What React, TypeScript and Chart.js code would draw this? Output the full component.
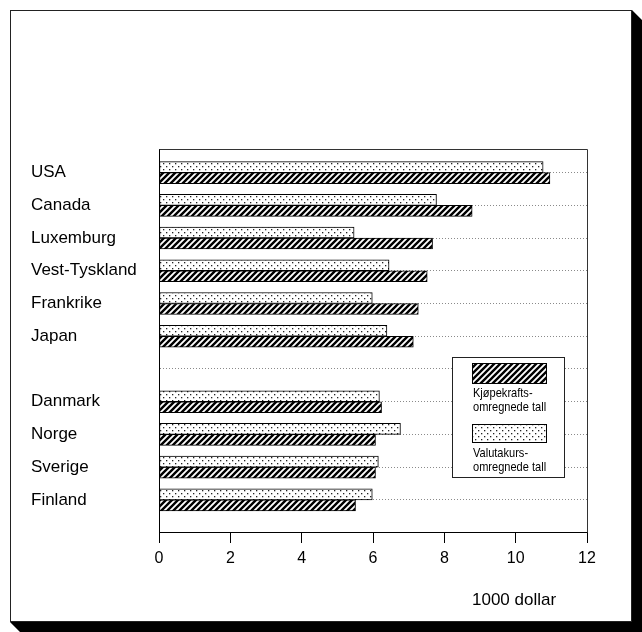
import React, { useEffect, useRef } from "react";
import { Chart, registerables } from "chart.js";

Chart.register(...registerables);

// Rows from top to bottom; the empty label is the gap between the two groups
const categories = [
  "USA",
  "Canada",
  "Luxemburg",
  "Vest-Tyskland",
  "Frankrike",
  "Japan",
  "",
  "Danmark",
  "Norge",
  "Sverige",
  "Finland",
];

// Kjøpekrafts-omregnede tall (hatched), 1000 dollar
const kjopekraft: (number | null)[] = [10.96, 8.78, 7.67, 7.52, 7.27, 7.13, null, 6.24, 6.07, 6.07, 5.51];
// Valutakurs-omregnede tall (dotted), 1000 dollar
const valutakurs: (number | null)[] = [10.77, 7.78, 5.47, 6.45, 5.98, 6.39, null, 6.18, 6.77, 6.15, 5.98];

const xTicks = [0, 2, 4, 6, 8, 10, 12];
const legendLabels = [
  ["Kjøpekrafts-", "omregnede tall"],
  ["Valutakurs-", "omregnede tall"],
];
const axisTitle = "1000 dollar";

function toPoints(values: (number | null)[]) {
  return categories
    .map((_, i) => ({ x: values[i], y: i }))
    .filter((p) => p.x !== null) as { x: number; y: number }[];
}

function makeHatch(): CanvasPattern {
  const c = document.createElement("canvas");
  c.width = 6;
  c.height = 6;
  const g = c.getContext("2d")!;
  g.fillStyle = "#fff";
  g.fillRect(0, 0, 6, 6);
  g.strokeStyle = "#000";
  g.lineWidth = 2.4;
  g.beginPath();
  g.moveTo(-1, 7);
  g.lineTo(7, -1);
  g.moveTo(-4, 4);
  g.lineTo(4, -4);
  g.moveTo(2, 10);
  g.lineTo(10, 2);
  g.stroke();
  return g.createPattern(c, "repeat")!;
}

function makeDots(): CanvasPattern {
  const c = document.createElement("canvas");
  c.width = 6;
  c.height = 6;
  const g = c.getContext("2d")!;
  g.fillStyle = "#fff";
  g.fillRect(0, 0, 6, 6);
  g.fillStyle = "#222";
  g.fillRect(1, 1, 1.3, 1.3);
  g.fillRect(4, 4, 1.3, 1.3);
  return g.createPattern(c, "repeat")!;
}

export default function App() {
  const ref = useRef<HTMLCanvasElement>(null);

  useEffect(() => {
    if (!ref.current) return;
    const hatch = makeHatch();
    const dots = makeDots();

    const framePlugin = {
      id: "frame",
      beforeDraw(chart: any) {
        const ctx = chart.ctx as CanvasRenderingContext2D;
        const W = chart.width;
        const H = chart.height;
        ctx.save();
        ctx.fillStyle = "#fff";
        ctx.fillRect(0, 0, W, H);
        // extruded shadow
        ctx.fillStyle = "#000";
        ctx.beginPath();
        ctx.moveTo(632, 10);
        ctx.lineTo(642, 20);
        ctx.lineTo(642, 632);
        ctx.lineTo(20, 632);
        ctx.lineTo(10, 622);
        ctx.lineTo(632, 622);
        ctx.closePath();
        ctx.fill();
        ctx.strokeStyle = "#222";
        ctx.lineWidth = 1;
        ctx.strokeRect(10.5, 10.5, 621, 611);
        ctx.restore();
      },
      beforeDatasetsDraw(chart: any) {
        const ctx = chart.ctx as CanvasRenderingContext2D;
        const a = chart.chartArea;
        ctx.save();
        ctx.strokeStyle = "#333";
        ctx.lineWidth = 1;
        ctx.beginPath();
        ctx.moveTo(Math.round(a.left) + 0.5, Math.round(a.top) + 0.5);
        ctx.lineTo(Math.round(a.right) + 0.5, Math.round(a.top) + 0.5);
        ctx.lineTo(Math.round(a.right) + 0.5, Math.round(a.bottom) + 0.5);
        ctx.stroke();
        ctx.restore();
      },
      afterDraw(chart: any) {
        const ctx = chart.ctx as CanvasRenderingContext2D;
        ctx.save();
        // legend box
        ctx.fillStyle = "#fff";
        ctx.fillRect(452.5, 357.5, 112, 120);
        ctx.strokeStyle = "#222";
        ctx.lineWidth = 1;
        ctx.strokeRect(452.5, 357.5, 112, 120);
        const swatches = [
          { fill: hatch, y: 363.5, h: 20, text: legendLabels[0], ty: 393 },
          { fill: dots, y: 424.5, h: 18, text: legendLabels[1], ty: 453 },
        ];
        for (const s of swatches) {
          ctx.fillStyle = s.fill as any;
          ctx.fillRect(472.5, s.y, 74, s.h);
          ctx.strokeStyle = "#000";
          ctx.strokeRect(472.5, s.y, 74, s.h);
          ctx.fillStyle = "#000";
          ctx.font = '13px "Liberation Sans", Arial, sans-serif';
          ctx.textBaseline = "middle";
          ctx.textAlign = "left";
          s.text.forEach((line, k) => {
            ctx.save();
            ctx.translate(473, s.ty + k * 14.5);
            ctx.scale(0.85, 1);
            ctx.fillText(line, 0, 0);
            ctx.restore();
          });
        }
        // axis unit
        ctx.fillStyle = "#000";
        ctx.font = '17px "Liberation Sans", Arial, sans-serif';
        ctx.textBaseline = "middle";
        ctx.textAlign = "left";
        ctx.fillText(axisTitle, 472, 600);
        ctx.restore();
      },
    };

    const chart = new Chart(ref.current, {
      type: "bar",
      data: {
        datasets: [
          {
            label: legendLabels[1].join(""),
            data: toPoints(valutakurs),
            backgroundColor: dots,
            borderColor: "#000",
            borderWidth: 1,
            borderSkipped: false,
            barThickness: 11,
          },
          {
            label: legendLabels[0].join(""),
            data: toPoints(kjopekraft),
            backgroundColor: hatch,
            borderColor: "#000",
            borderWidth: 1,
            borderSkipped: false,
            barThickness: 11,
          },
        ],
      },
      options: {
        indexAxis: "y",
        animation: false,
        responsive: false,
        devicePixelRatio: 1,
        layout: { padding: { left: 31, top: 149, right: 55, bottom: 0 } },
        plugins: {
          legend: { display: false },
          tooltip: { enabled: false },
          title: { display: false },
        },
        scales: {
          x: {
            type: "linear",
            min: 0,
            max: 12,
            afterBuildTicks: (scale: any) => {
              scale.ticks = xTicks.map((v) => ({ value: v }));
            },
            afterFit: (scale: any) => {
              scale.height = 100;
            },
            grid: {
              drawOnChartArea: false,
              drawTicks: true,
              tickLength: 11,
              tickColor: "#000",
              color: "#000",
            },
            border: { display: true, color: "#000", width: 1 },
            ticks: {
              color: "#000",
              padding: 6,
              font: { family: '"Liberation Sans", Arial, sans-serif', size: 16 },
              maxRotation: 0,
              autoSkip: false,
            },
          },
          y: {
            type: "linear",
            reverse: true,
            offset: false,
            min: -0.72,
            max: 10.98,
            afterBuildTicks: (scale: any) => {
              scale.ticks = categories.map((_, i) => ({ value: i }));
            },
            afterFit: (scale: any) => {
              scale.width = 128;
            },
            grid: {
              offset: false,
              drawTicks: false,
              color: "#8a8a8a",
              lineWidth: 1,
            },
            border: { display: true, color: "#000", width: 1, dash: [1, 2] },
            ticks: {
              color: "#000",
              crossAlign: "far",
              autoSkip: false,
              font: { family: '"Liberation Sans", Arial, sans-serif', size: 17 },
              callback: (v: any) => categories[Number(v)] ?? "",
            },
          },
        },
      },
      plugins: [framePlugin],
    } as any);

    return () => chart.destroy();
  }, []);

  return (
    <div style={{ position: "absolute", left: 0, top: 0, width: 642, height: 632, overflow: "hidden" }}>
      <canvas ref={ref} width={642} height={632} style={{ display: "block" }} />
    </div>
  );
}
